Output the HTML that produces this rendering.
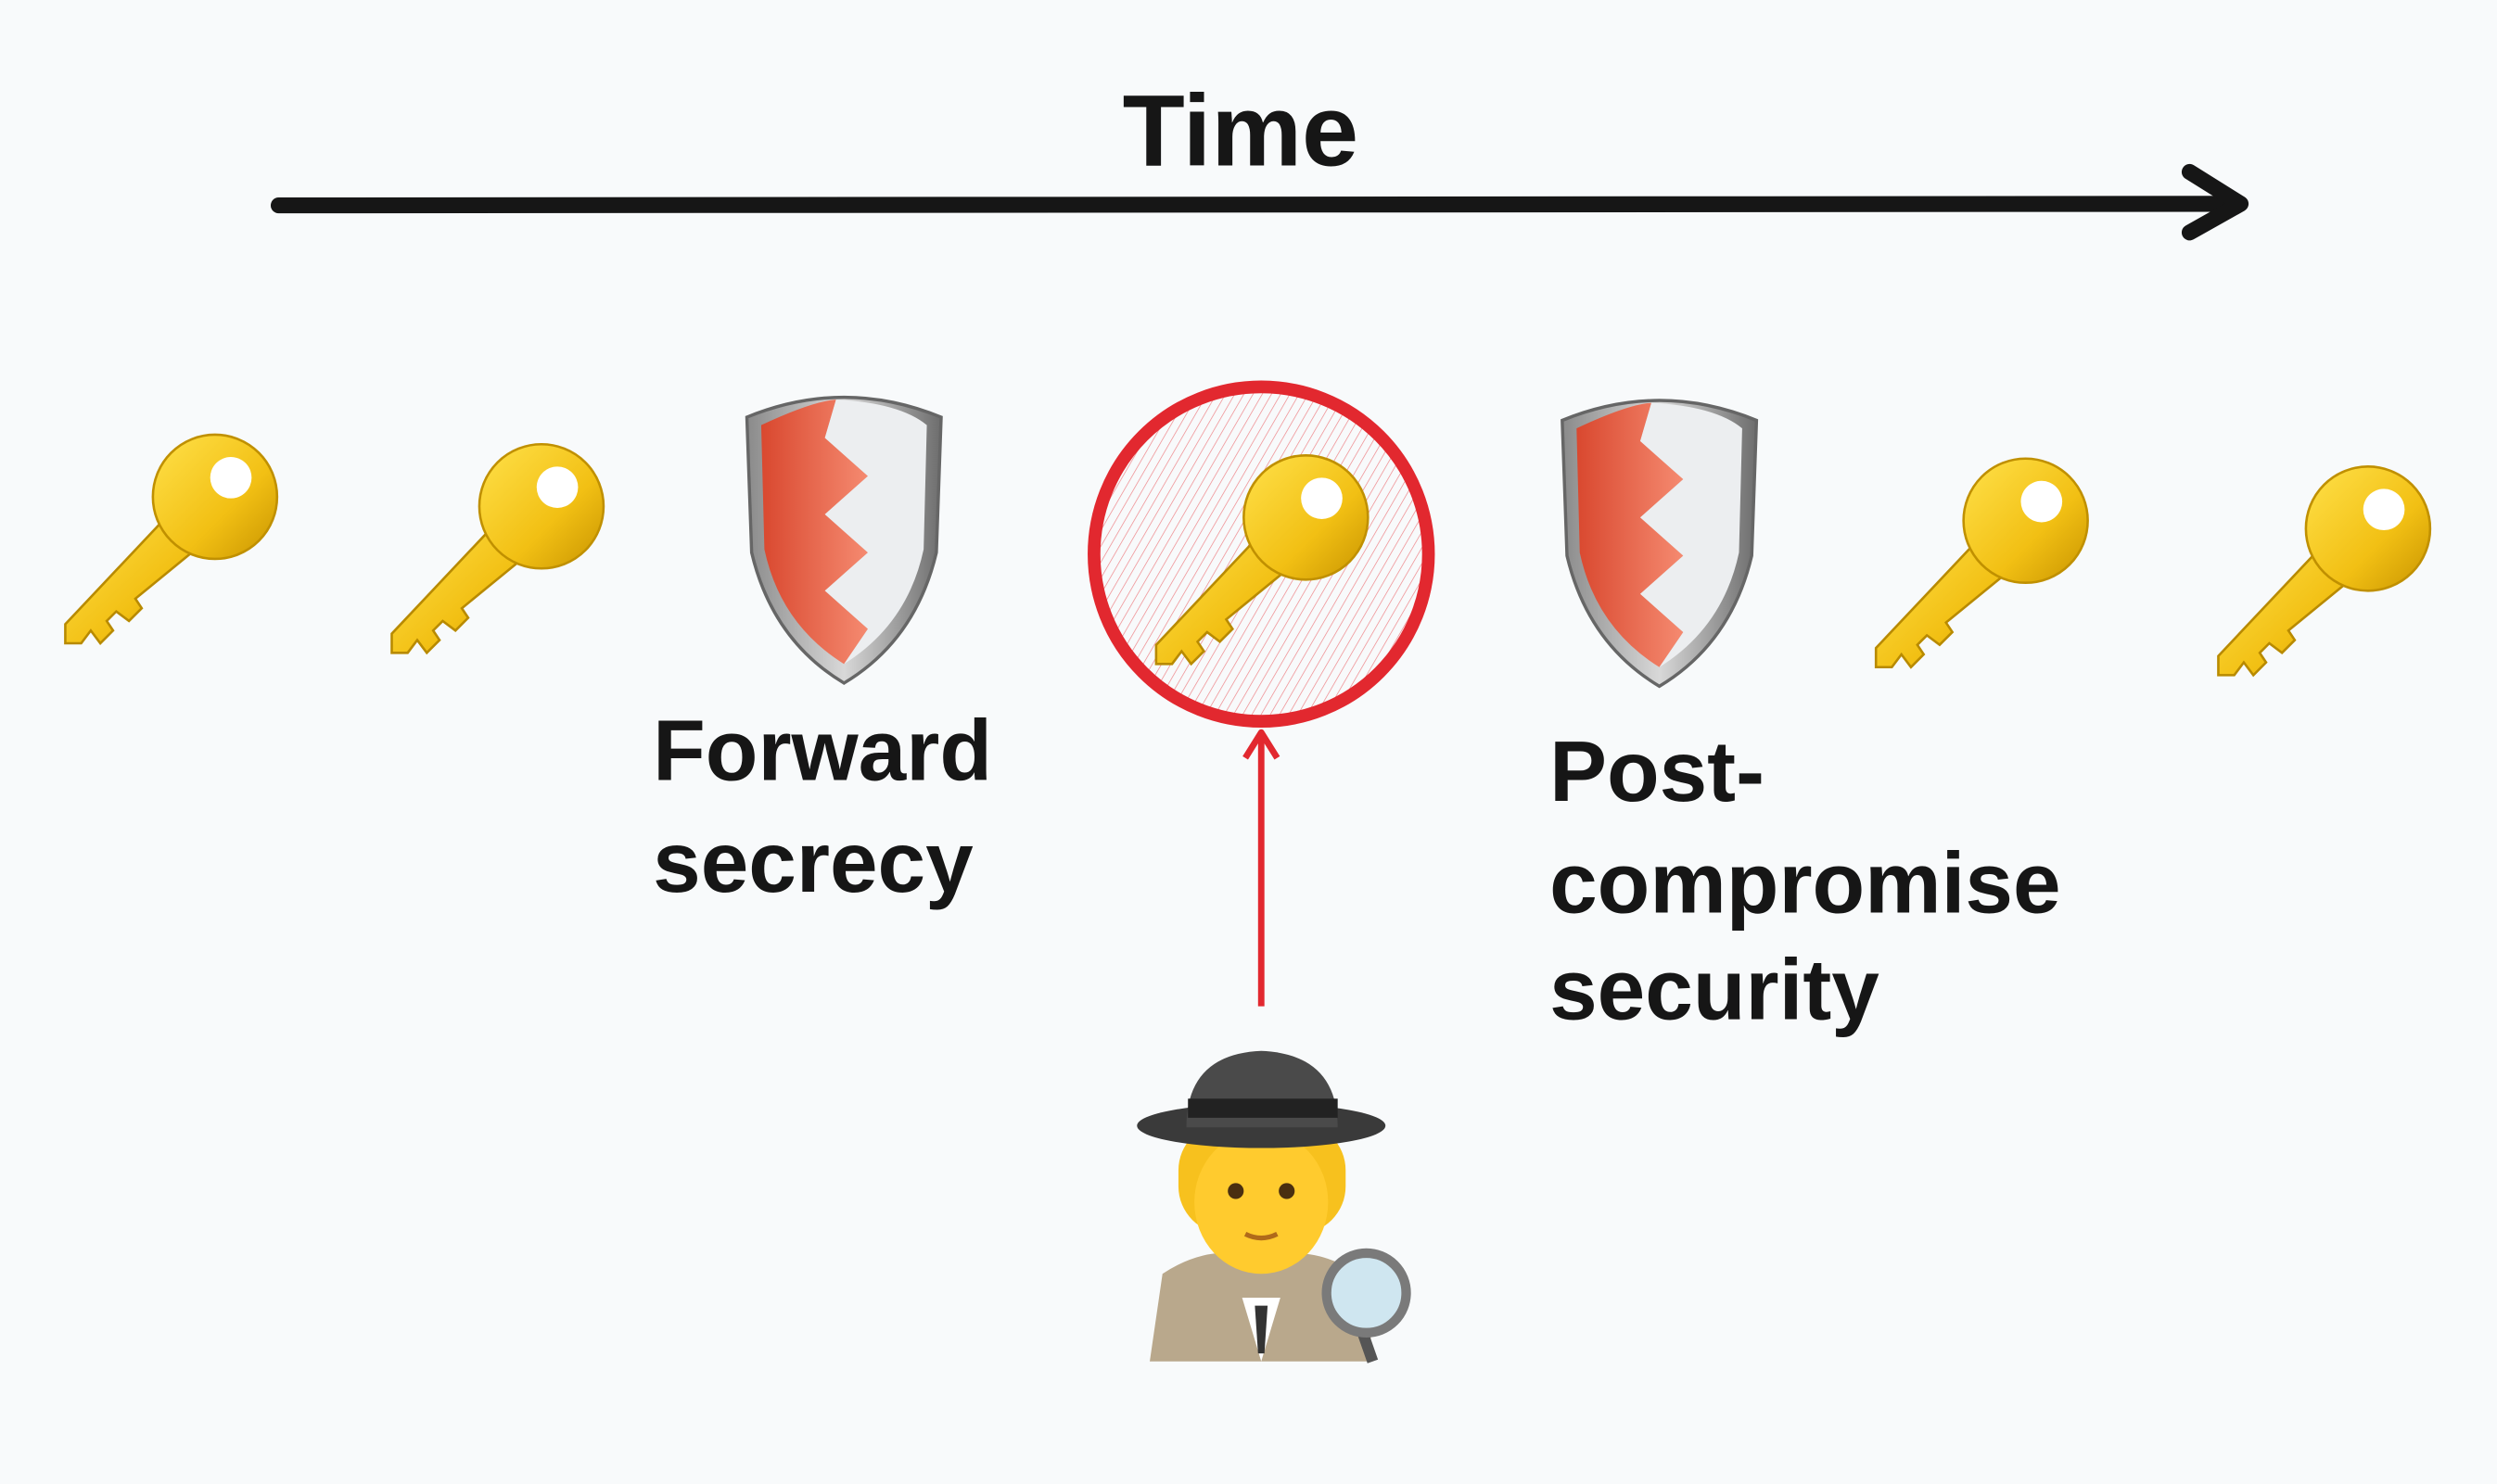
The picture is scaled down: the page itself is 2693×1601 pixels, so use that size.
<!DOCTYPE html>
<html><head><meta charset="utf-8"><style>
html,body{margin:0;padding:0;background:#f8fafb;}
svg{display:block;}
text{font-family:"Liberation Sans",sans-serif;font-weight:bold;fill:#161616;}
</style></head><body>
<svg width="2693" height="1601" viewBox="0 0 1568 932" preserveAspectRatio="none" xmlns="http://www.w3.org/2000/svg">
<defs>
<linearGradient id="gold" x1="0" y1="0" x2="1" y2="1">
<stop offset="0" stop-color="#ffe14a"/><stop offset="0.6" stop-color="#f2c014"/><stop offset="1" stop-color="#c89400"/>
</linearGradient>
<linearGradient id="steel" x1="0" y1="0" x2="1" y2="0">
<stop offset="0" stop-color="#8a8a8a"/><stop offset="0.5" stop-color="#d8d8d8"/><stop offset="1" stop-color="#6d6d6d"/>
</linearGradient>
<linearGradient id="redg" x1="0" y1="0" x2="1" y2="0">
<stop offset="0" stop-color="#d9482f"/><stop offset="1" stop-color="#f58a70"/>
</linearGradient>
<pattern id="hatch" width="5" height="5" patternUnits="userSpaceOnUse" patternTransform="rotate(30)">
<line x1="0" y1="0" x2="0" y2="5" stroke="#e6343a" stroke-width="0.8" opacity="0.6"/>
</pattern>
<g id="key">
<path d="M-28,10 L-94,80 L-94,92 L-84,92 L-78,84 L-72,92 L-64,84 L-68,78 L-62,72 L-54,78 L-46,70 L-50,64 L-6,28 Z" fill="url(#gold)" stroke="#b88a00" stroke-width="1.5"/>
<circle cx="0" cy="0" r="39" fill="url(#gold)" stroke="#c09000" stroke-width="1.5"/>
<circle cx="10" cy="-12" r="13" fill="#fff"/>
</g>
<g id="shield">
<path d="M-61,-75 Q0,-100 61,-75 L58,10 Q45,65 0,92 Q-45,65 -58,10 Z" fill="url(#steel)" stroke="#666" stroke-width="2"/>
<path d="M-52,-70 Q-20,-85 -5,-86 L-12,-62 L15,-38 L-12,-14 L15,10 L-12,34 L15,58 L0,80 Q-40,55 -50,8 Z" fill="url(#redg)"/>
<path d="M-5,-86 Q35,-84 52,-70 L50,8 Q40,55 0,80 L15,58 L-12,34 L15,10 L-12,-14 L15,-38 L-12,-62 Z" fill="#eceef0"/>
</g>
</defs>
<rect width="1568" height="932" fill="#f8fafb"/>
<text x="779" y="104" font-size="64" text-anchor="middle">Time</text>
<line x1="175" y1="129" x2="1405" y2="128" stroke="#161616" stroke-width="10" stroke-linecap="round"/>
<polyline points="1375,108 1407,128 1375,146" fill="none" stroke="#161616" stroke-width="10" stroke-linecap="round" stroke-linejoin="round"/>
<use href="#key" x="135" y="312"/>
<use href="#key" x="340" y="318"/>
<use href="#shield" x="530" y="337"/>
<circle cx="792" cy="348" r="105" fill="url(#hatch)" stroke="#e2282f" stroke-width="8"/>
<use href="#key" x="820" y="325"/>
<use href="#shield" x="1042" y="339"/>
<use href="#key" x="1272" y="327"/>
<use href="#key" x="1487" y="332"/>
<line x1="792" y1="632" x2="792" y2="462" stroke="#e2282f" stroke-width="4"/>
<polyline points="782,476 792,460 802,476" fill="none" stroke="#e2282f" stroke-width="4" stroke-linejoin="round"/>
<text x="410" y="490" font-size="54">Forward</text>
<text x="410" y="560" font-size="54">secrecy</text>
<text x="973" y="503" font-size="54">Post-</text>
<text x="973" y="573" font-size="54">compromise</text>
<text x="973" y="640" font-size="54">security</text>
<path d="M722,855 L730,800 Q760,780 792,790 Q830,780 858,805 L862,855 Z" fill="#b9a88c"/>
<path d="M780,815 L792,855 L804,815 Z" fill="#fff"/>
<path d="M788,820 L796,820 L794,850 L790,850 Z" fill="#333"/>
<rect x="740" y="705" width="105" height="70" rx="30" fill="#f7c11e"/>
<ellipse cx="792" cy="755" rx="42" ry="45" fill="#ffcb2e"/>
<circle cx="776" cy="748" r="5" fill="#4a2f10"/>
<circle cx="808" cy="748" r="5" fill="#4a2f10"/>
<path d="M782,775 Q792,780 802,775" stroke="#b06a1a" stroke-width="3" fill="none"/>
<ellipse cx="792" cy="707" rx="78" ry="14" fill="#3a3a3a"/>
<path d="M745,708 Q745,662 792,660 Q840,662 840,708 Z" fill="#4a4a4a"/>
<rect x="746" y="690" width="94" height="12" fill="#222"/>
<line x1="855" y1="835" x2="862" y2="855" stroke="#555" stroke-width="7"/>
<circle cx="858" cy="812" r="25" fill="#cfe6f0" stroke="#7a7a7a" stroke-width="6"/>
</svg>
</body></html>
